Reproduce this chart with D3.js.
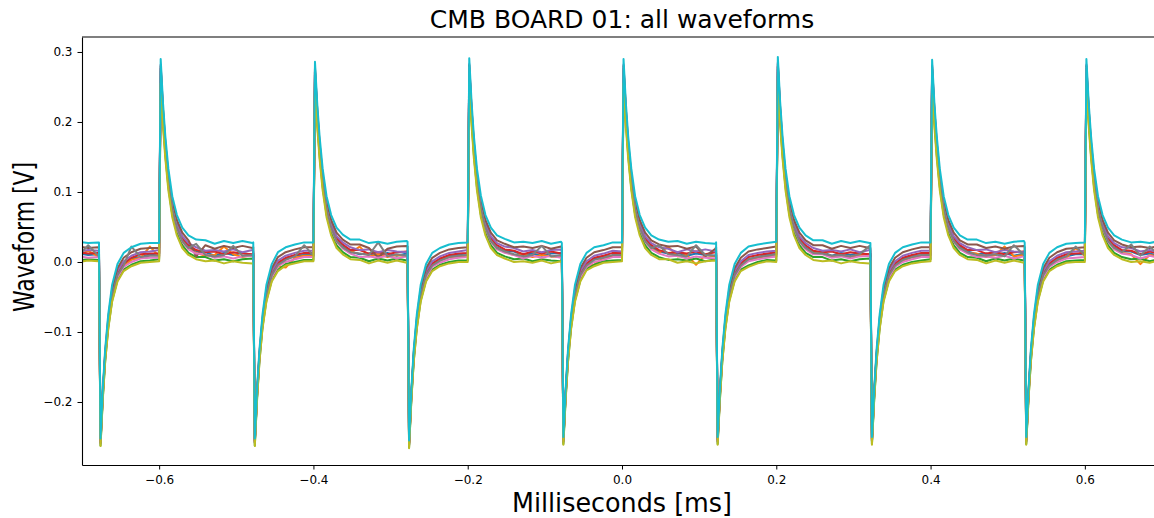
<!DOCTYPE html>
<html><head><meta charset="utf-8">
<script src="https://cdn.jsdelivr.net/npm/d3@7/dist/d3.min.js"></script>
<style>
html,body{margin:0;padding:0;background:#fff;}
svg{display:block;font-family:"DejaVu Sans",sans-serif;}
</style></head>
<body><svg id="chart" width="1154" height="518"></svg>
<script>
// ---------- data (values in mV, times in ms) ----------
const titleText = "CMB BOARD 01: all waveforms";
const xLabelText = "Milliseconds [ms]";
const yLabelText = "Waveform [V]";
const xTickValues = [-0.6, -0.4, -0.2, 0.0, 0.2, 0.4, 0.6];
const yTickValues = [-0.2, -0.1, 0.0, 0.1, 0.2, 0.3];
const risingEdgesMs = [-0.6, -0.4, -0.2, 0.0, 0.2, 0.4, 0.6];
const fallingEdgesMs = [-0.678, -0.478, -0.278, -0.078, 0.122, 0.322, 0.522];
const leadInMs = [-0.704, -0.692, -0.679];
const lowOffsetsMs = [0, 0.002, 0.005, 0.008, 0.012, 0.017, 0.024, 0.032, 0.042, 0.054, 0.066];
const highOffsetsMs = [0, 0.002, 0.005, 0.008, 0.012, 0.017, 0.023, 0.030, 0.038, 0.048, 0.060, 0.072, 0.084, 0.096, 0.108, 0.121];
const seriesColors = ["#1f77b4","#ff7f0e","#2ca02c","#d62728","#9467bd","#8c564b","#e377c2","#7f7f7f","#bcbd22","#17becf"];

const chBlue = [[12,10,11],
[11,-258,-189,-136,-88,-48,-18,-4,5,7,11],
[12,272,209,162,115,76,50,32,21,15,14,9,13,10,13,10],
[12,-258,-190,-136,-87,-48,-18,-3,4,9,10],
[11,268,207,161,115,76,50,32,22,15,11,12,10,13,9,12],
[10,-261,-191,-137,-88,-49,-18,-4,3,8,11],
[12,273,210,162,115,77,50,32,21,16,15,10,12,9,12,13],
[11,-256,-189,-136,-88,-47,-17,-4,5,8,9],
[10,272,209,162,116,76,49,32,21,15,12,13,9,12,10,9],
[12,-256,-188,-136,-88,-48,-18,-5,4,7,11],
[11,275,211,163,115,76,50,33,21,14,14,9,13,10,13,10],
[11,-256,-189,-135,-88,-48,-19,-4,4,9,10],
[12,271,208,162,115,75,50,32,22,15,11,12,10,13,9,12],
[10,-256,-189,-136,-89,-48,-18,-3,4,8,11],
[11,272,209,162,115,76,50,32,21,15,15,10,12,9,12]];

const chOrange = [[10,16,8],
[9,-257,-189,-136,-89,-49,-20,-6,3,6,22],
[8,268,206,159,113,74,48,30,19,13,9,10,22,11,7,10],
[10,-257,-189,-135,-89,-49,-20,-6,-8,6,9],
[9,264,204,158,113,74,48,30,20,13,22,8,11,7,10,8],
[8,-260,-189,-136,-88,-49,-20,-5,2,7,8],
[9,269,207,159,113,75,48,30,19,14,10,11,7,10,8,7],
[9,-255,-189,-136,-89,-49,-20,-6,-4,6,8],
[9,268,206,159,113,74,48,30,19,13,22,8,10,-4,10,8],
[10,-255,-188,-136,-89,-49,-20,-6,2,6,9],
[8,271,208,160,113,74,48,30,19,13,13,8,10,7,10,11],
[9,-255,-189,-136,-89,-49,-20,-6,2,7,8],
[10,267,205,159,113,74,48,30,19,13,12,7,10,22,8,10],
[9,-255,-189,-136,-89,-49,-20,-6,2,6,20],
[9,268,206,159,113,74,48,30,19,13,11,-3,10,8,11]];

const chGreen = [[2,4,3],
[3,-262,-194,-142,-94,-55,-26,-11,-4,1,2],
[4,262,200,153,107,68,42,24,13,7,7,2,4,1,4,5],
[2,-262,-194,-142,-93,-55,-26,-11,-3,0,3],
[3,258,198,152,107,68,42,24,14,7,6,1,5,2,5,2],
[3,-265,-195,-142,-94,-55,-26,-11,-4,0,2],
[2,263,201,153,107,68,42,24,13,8,4,5,1,4,2,1],
[4,-260,-194,-142,-94,-55,-26,-10,-4,1,2],
[3,262,200,153,107,68,42,24,13,7,3,4,2,5,1,4],
[3,-260,-194,-142,-94,-55,-26,-11,-5,0,3],
[2,265,202,154,107,68,42,24,13,7,7,2,4,1,4,5],
[3,-260,-194,-142,-94,-55,-26,-11,-4,0,2],
[4,261,199,153,107,68,42,24,13,7,6,1,5,2,5,2],
[3,-260,-194,-142,-94,-55,-26,-11,-4,1,2],
[3,262,200,153,107,68,42,24,13,7,4,5,1,4,2]];

const chRed = [[14,12,13],
[13,-256,-187,-134,-86,-46,-16,-2,6,11,12],
[12,276,213,166,118,79,52,34,24,17,14,15,11,14,12,11],
[13,-256,-187,-134,-86,-46,-16,-1,6,10,13],
[13,272,211,165,118,79,52,34,25,17,17,12,14,11,14,15],
[14,-259,-188,-134,-86,-46,-16,-2,5,10,12],
[13,277,214,166,118,80,52,34,24,18,16,11,15,12,15,12],
[12,-254,-187,-134,-86,-46,-16,-2,6,9,13],
[13,276,213,166,119,79,52,34,24,17,13,14,12,15,11,14],
[13,-254,-187,-134,-86,-46,-16,-2,7,10,12],
[14,279,215,167,118,79,52,34,24,16,14,15,11,14,12,11],
[12,-254,-187,-134,-86,-46,-16,-2,6,10,13],
[13,275,212,166,118,79,52,34,24,17,17,12,14,11,14,15],
[13,-254,-187,-134,-86,-46,-16,-2,6,11,12],
[13,276,213,166,118,79,52,34,24,17,16,11,15,12,15]];

const chPurple = [[15,17,16],
[16,-254,-185,-131,-83,-43,-13,1,9,14,15],
[17,282,218,170,122,83,56,37,27,21,16,17,15,18,14,17],
[15,-254,-185,-131,-83,-43,-13,2,9,13,16],
[16,278,216,169,122,83,56,37,28,21,17,18,14,17,15,14],
[16,-257,-186,-131,-83,-43,-13,1,8,13,15],
[17,283,219,170,122,84,56,37,27,22,20,15,17,14,17,18],
[16,-252,-185,-131,-83,-43,-13,1,9,12,16],
[15,282,218,170,123,83,56,37,27,21,19,14,18,15,18,15],
[16,-252,-185,-131,-83,-43,-13,1,10,13,15],
[16,285,220,171,122,83,56,37,27,20,16,17,15,18,14,17],
[17,-252,-185,-131,-83,-43,-13,1,9,13,16],
[16,281,217,170,122,83,56,37,27,21,17,18,14,17,15,14],
[16,-252,-185,-131,-83,-43,-13,1,9,14,15],
[16,282,218,170,122,83,56,37,27,21,20,15,17,14,17]];

const chBrown = [[22,20,21],
[21,-255,-185,-130,-80,-39,-9,6,14,19,20],
[20,280,218,171,125,86,60,42,31,8,24,19,23,20,23,20],
[21,-255,-185,-130,-80,-39,-9,7,14,18,21],
[21,276,216,170,125,86,60,42,32,25,25,20,6,19,22,23],
[22,-258,-186,-130,-80,-39,-9,6,13,18,20],
[21,281,219,171,125,87,60,42,31,26,21,22,20,23,19,22],
[20,-253,-185,-130,-80,-39,-9,6,14,17,21],
[21,280,218,171,126,86,60,42,31,25,22,23,19,22,8,19],
[21,-253,-185,-130,-80,-39,-9,6,15,18,20],
[22,283,220,172,125,86,60,42,31,24,24,19,23,20,23,20],
[20,-253,-185,-130,-80,-39,-9,6,14,18,21],
[21,279,217,171,125,86,60,42,31,25,25,20,22,19,22,23],
[21,-253,-185,-130,-80,-39,-9,6,14,19,20],
[21,280,218,171,125,86,60,42,31,25,21,22,20,23,19]];

const chPink = [[8,6,7],
[7,-258,-190,-138,-90,-51,-22,-7,0,5,6],
[6,277,212,164,115,75,48,29,18,12,11,6,8,5,8,9],
[7,-258,-190,-138,-90,-51,-22,-6,0,4,7],
[7,273,210,163,115,75,48,29,19,12,7,8,6,9,5,8],
[8,-261,-191,-138,-90,-51,-22,-7,-1,4,6],
[7,278,213,164,115,76,48,29,18,13,10,5,9,6,9,6],
[6,-256,-190,-138,-90,-51,-22,-7,0,3,7],
[7,277,212,164,116,75,48,29,18,12,8,9,5,8,6,5],
[7,-256,-190,-138,-90,-51,-22,-7,1,4,6],
[8,280,214,165,115,75,48,29,18,11,11,6,8,5,8,9],
[6,-256,-190,-138,-90,-51,-22,-7,0,4,7],
[7,276,211,164,115,75,48,29,18,12,7,8,6,9,5,8],
[7,-256,-190,-138,-90,-51,-22,-7,0,5,6],
[7,277,212,164,115,75,48,29,18,12,10,5,9,6,9]];

const chGray = [[10,24,9],
[10,-259,-190,-137,-89,-49,-19,-5,22,7,9],
[9,276,212,164,116,76,49,30,20,26,10,8,10,23,9,10],
[10,-259,-190,-137,-89,-49,-19,-4,3,8,24],
[9,272,210,163,116,76,49,30,21,14,12,10,28,8,11,9],
[11,-262,-191,-137,-89,-49,-19,-5,2,7,9],
[10,277,213,164,116,77,49,30,20,15,11,8,10,23,8,10],
[9,-257,-190,-137,-89,-49,-19,-5,3,6,10],
[10,276,212,164,117,76,49,30,20,24,11,10,8,24,10,9],
[10,-257,-190,-137,-89,-49,-19,-5,4,7,9],
[11,279,214,165,116,76,49,30,20,13,12,9,10,8,11,23],
[9,-257,-190,-137,-89,-49,-19,-5,3,7,10],
[10,275,211,164,116,76,49,30,20,14,10,9,11,8,24,10],
[10,-257,-190,-137,-89,-49,-19,-5,3,8,22],
[10,276,212,164,116,76,49,30,20,14,25,9,22,10,8]];

const chOlive = [[0,2,1],
[1,-263,-196,-143,-96,-57,-28,-13,-6,-1,0],
[1,255,194,148,102,64,38,20,10,4,1,2,-2,1,-1,-2],
[0,-263,-196,-143,-95,-57,-28,-13,-5,-2,1],
[1,251,192,147,102,64,38,20,11,4,3,-2,2,-1,2,-1],
[1,-266,-197,-143,-96,-57,-28,-13,-6,-2,0],
[0,256,195,148,102,64,38,20,10,5,0,1,-1,2,-2,1],
[2,-261,-196,-143,-96,-57,-28,-12,-6,-1,0],
[1,255,194,148,103,64,38,20,10,4,4,-1,1,-2,1,2],
[1,-261,-196,-143,-96,-57,-28,-13,-7,-2,1],
[0,258,196,149,102,64,38,20,10,3,1,2,-2,1,-1,-2],
[1,-261,-196,-143,-96,-57,-28,-13,-6,-2,0],
[1,254,193,148,102,64,38,20,10,4,3,-2,2,-1,2,-1],
[1,-261,-196,-143,-96,-57,-28,-13,-6,-1,0],
[0,255,194,148,102,64,38,20,10,4,0,1,-1,2,-2]];

const chCyan = [[29,27,28],
[28,-252,-180,-125,-75,-33,-3,13,21,26,27],
[27,290,227,180,133,94,67,49,38,32,31,26,30,27,30,27],
[28,-252,-180,-125,-75,-33,-3,14,21,25,28],
[28,286,225,179,133,94,67,49,39,32,32,27,29,26,29,30],
[29,-255,-181,-125,-75,-33,-3,13,20,25,27],
[28,291,228,180,133,95,67,49,38,33,28,29,27,30,26,29],
[27,-250,-180,-125,-75,-33,-3,13,21,24,28],
[28,290,227,180,134,94,67,49,38,32,29,30,26,29,27,26],
[28,-250,-180,-125,-75,-33,-3,13,22,25,27],
[29,293,229,181,133,94,67,49,38,31,31,26,30,27,30,27],
[27,-250,-180,-125,-75,-33,-3,13,21,25,28],
[28,289,226,180,133,94,67,49,38,32,32,27,29,26,29,30],
[28,-250,-180,-125,-75,-33,-3,13,21,26,27],
[28,290,227,180,133,94,67,49,38,32,28,29,27,30,26]];

const allSeries = [chBlue, chOrange, chGreen, chRed, chPurple, chBrown, chPink, chGray, chOlive, chCyan];

// ---------- sample-time segments ----------
const timeSegments = [leadInMs];
fallingEdgesMs.forEach((f, k) => {
  timeSegments.push(lowOffsetsMs.map(o => f + o));
  timeSegments.push(highOffsetsMs.map(o => risingEdgesMs[k] + o));
});

function toPoints(series) {
  const pts = [];
  series.forEach((seg, i) => {
    const ts = timeSegments[i];
    const n = Math.min(seg.length, ts.length);
    for (let j = 0; j < n; j++) pts.push([ts[j], seg[j] / 1000]);
  });
  return pts;
}

// ---------- layout ----------
const svg = d3.select("#chart");
const plotLeft = 82, plotRight = 1162, plotTop = 37, plotBottom = 465;
const x = d3.scaleLinear().domain([-0.7, 0.7]).range([plotLeft, plotRight]);
const y = d3.scaleLinear().domain([-0.29, 0.3214]).range([plotBottom, plotTop]);

svg.append("defs").append("clipPath").attr("id", "plotclip")
  .append("rect").attr("x", plotLeft).attr("y", plotTop)
  .attr("width", plotRight - plotLeft).attr("height", plotBottom - plotTop);

const line = d3.line().x(d => x(d[0])).y(d => y(d[1]));
const gLines = svg.append("g").attr("clip-path", "url(#plotclip)");
allSeries.forEach((s, i) => {
  gLines.append("path")
    .attr("d", line(toPoints(s)))
    .attr("fill", "none")
    .attr("stroke", seriesColors[i])
    .attr("stroke-width", 2)
    .attr("stroke-linejoin", "round")
    .attr("stroke-linecap", "square");
});

// axes
const fmt = d3.format(".1f");
const gx = svg.append("g").attr("transform", `translate(0,${plotBottom})`)
  .call(d3.axisBottom(x).tickValues(xTickValues).tickFormat(fmt).tickSize(4.5).tickPadding(6).tickSizeOuter(0));
const gy = svg.append("g").attr("transform", `translate(${plotLeft},0)`)
  .call(d3.axisLeft(y).tickValues(yTickValues).tickFormat(fmt).tickSize(4.5).tickPadding(5).tickSizeOuter(0));
[gx, gy].forEach(g => {
  g.selectAll("text").attr("font-size", 12).attr("font-family", "DejaVu Sans").attr("fill", "#000");
  g.selectAll("line").attr("stroke", "#000").attr("stroke-width", 1);
  g.select(".domain").attr("stroke", "#000").attr("stroke-width", 1.1);
});
// top spine
svg.append("line").attr("x1", plotLeft).attr("x2", plotRight).attr("y1", plotTop).attr("y2", plotTop)
  .attr("stroke", "#000").attr("stroke-width", 1.1);

// title and labels
svg.append("text").attr("x", (plotLeft + plotRight) / 2).attr("y", 28)
  .attr("text-anchor", "middle").attr("font-size", 25).attr("fill", "#000").text(titleText);
svg.append("text").attr("x", (plotLeft + plotRight) / 2).attr("y", 511.5)
  .attr("text-anchor", "middle").attr("font-size", 26).attr("fill", "#000")
  .attr("textLength", 220).attr("lengthAdjust", "spacingAndGlyphs").text(xLabelText);
svg.append("text").attr("transform", "translate(33.5,237) rotate(-90)")
  .attr("text-anchor", "middle").attr("font-size", 28).attr("fill", "#000")
  .attr("textLength", 150).attr("lengthAdjust", "spacingAndGlyphs").text(yLabelText);
</script>
</body></html>
